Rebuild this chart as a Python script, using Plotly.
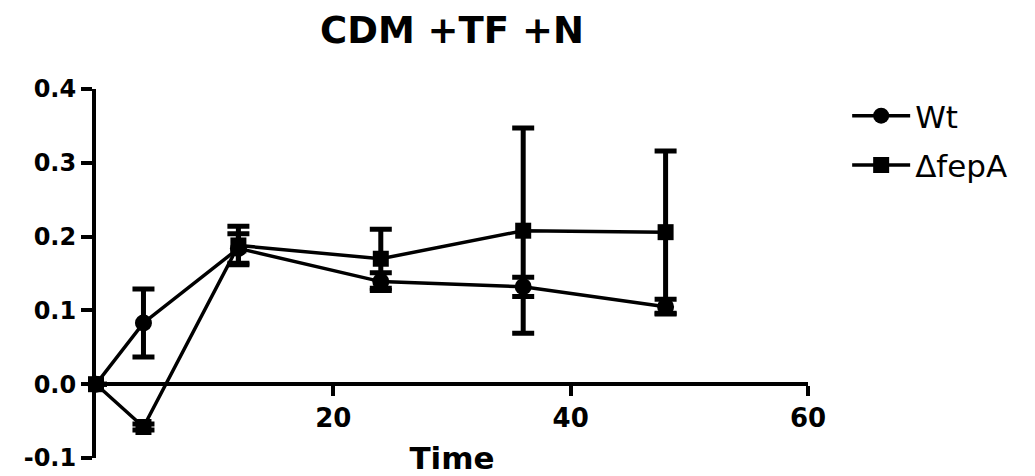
import plotly.graph_objects as go

time = [0, 4, 12, 24, 36, 48]
wt_mean = [0.0, 0.083, 0.184, 0.139, 0.132, 0.105]
wt_err = [0.0, 0.046, 0.02, 0.012, 0.013, 0.01]
fepa_mean = [0.0, -0.058, 0.188, 0.170, 0.208, 0.206]
fepa_err = [0.0, 0.004, 0.026, 0.040, 0.139, 0.110]

series_names = ["Wt", "\u0394fepA"]
y_ticks = [-0.1, 0.0, 0.1, 0.2, 0.3, 0.4]
x_ticks = [20, 40, 60]

FONT = "DejaVu Sans, Arial, sans-serif"

fig = go.Figure()
fig.add_trace(go.Scatter(
    x=time, y=wt_mean, name=series_names[0], mode="lines+markers",
    legendgroup="a",
    line=dict(color="black", width=3.5),
    marker=dict(symbol="circle", size=17, color="black"),
    error_y=dict(type="data", array=wt_err, visible=True, color="black", thickness=5, width=11),
    cliponaxis=False,
))
fig.add_trace(go.Scatter(
    x=time, y=fepa_mean, name=series_names[1], mode="lines+markers",
    legendgroup="b",
    line=dict(color="black", width=3.5),
    marker=dict(symbol="square", size=16, color="black"),
    error_y=dict(type="data", array=fepa_err, visible=True, color="black", thickness=5, width=11),
    cliponaxis=False,
))

fig.update_layout(
    width=1035, height=476,
    margin=dict(l=88, r=235, t=81, b=16),
    paper_bgcolor="white", plot_bgcolor="white",
    font=dict(family=FONT, color="black"),
    title=dict(text="<b>CDM +TF +N</b>", x=0.5, xref="paper", xanchor="center",
               y=1 - 22 / 476, yref="container", yanchor="middle",
               font=dict(size=37, family=FONT, color="black")),
    showlegend=True,
    legend=dict(x=1.055, y=1.0, xanchor="left", yanchor="top",
                font=dict(size=31, family=FONT, color="black"),
                itemwidth=58,
                bgcolor="rgba(0,0,0,0)", tracegroupgap=6),
    xaxis=dict(
        range=[0, 60], anchor="free", position=0.2,
        showline=True, linecolor="black", linewidth=4,
        showgrid=False, zeroline=False,
        ticks="outside", ticklen=10, tickwidth=4, tickcolor="black",
        tickvals=x_ticks, ticktext=[f"<b>{v}</b>" for v in x_ticks],
        tickfont=dict(size=26, family=FONT, color="black"),
        title=dict(text="<b>Time</b>", font=dict(size=31, family=FONT, color="black"), standoff=14),
    ),
    yaxis=dict(
        range=[-0.1, 0.4],
        showline=True, linecolor="black", linewidth=4,
        showgrid=False, zeroline=False,
        ticks="outside", ticklen=11, tickwidth=4, tickcolor="black",
        tickvals=y_ticks, ticktext=[f"<b>{v:.1f}</b>" for v in y_ticks],
        tickfont=dict(size=24, family=FONT, color="black"),
    ),
)

fig.write_html("out.html")
